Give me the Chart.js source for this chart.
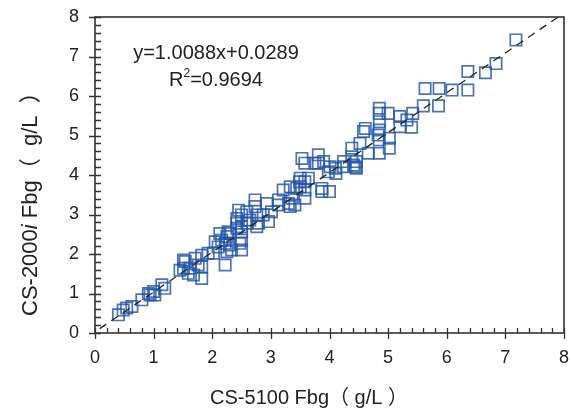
<!DOCTYPE html>
<html>
<head>
<meta charset="utf-8">
<script src="https://cdn.jsdelivr.net/npm/chart.js@4.4.1/dist/chart.umd.min.js"></script>
<style>
  html, body { margin: 0; padding: 0; background: #fff; }
  #wrap { width: 571px; height: 412px; }
</style>
</head>
<body>
<div id="wrap"><canvas id="scatter" width="571" height="412"></canvas></div>
<script>
// CS-5100 Fbg (x) vs CS-2000i Fbg (y), g/L
const xVals = [
  7.18, 6.84, 6.66, 6.36, 6.36, 6.09, 5.87, 5.63, 5.86, 5.60,
  5.42, 5.32, 5.40, 5.20, 5.20, 5.00, 4.85, 4.85, 4.85, 4.85,
  4.85, 4.85, 5.02, 5.02, 4.61, 4.58, 4.52, 4.66, 4.38, 4.38,
  4.46, 4.44, 4.83, 4.46, 4.24, 4.24, 4.41, 4.10, 4.01, 4.11,
  3.90, 3.81, 3.81, 3.53, 3.58, 3.75, 3.98, 3.87, 3.87, 4.00,
  3.49, 3.58, 3.58, 3.44, 3.58, 3.41, 3.36, 3.50, 3.50, 3.64,
  3.33, 3.21, 3.30, 3.13, 3.13, 2.93, 2.73, 2.73, 3.33, 3.01,
  2.87, 2.76, 2.79, 2.96, 2.59, 2.50, 2.45, 2.59, 2.50, 2.50,
  2.42, 2.27, 2.25, 2.30, 2.33, 2.64, 2.42, 2.42, 2.76, 2.50,
  2.30, 2.13, 2.16, 2.22, 2.10, 2.25, 2.47, 2.50, 2.05, 2.22,
  1.93, 2.02, 1.82, 1.71, 1.76, 1.51, 1.51, 1.62, 1.45, 1.59,
  1.82, 1.68, 0.40, 0.48, 0.54, 0.63, 0.80, 0.94, 0.91, 1.00,
  1.02, 1.14, 1.19, 1.54, 1.82
];
const yVals = [
  7.42, 6.82, 6.59, 6.62, 6.15, 6.15, 6.19, 6.19, 5.75, 5.75,
  5.56, 5.39, 5.21, 5.48, 5.22, 5.56, 5.69, 5.56, 5.35, 5.14,
  4.89, 4.55, 4.93, 4.68, 5.18, 5.10, 4.80, 4.55, 4.68, 4.46,
  4.34, 4.21, 5.01, 4.17, 4.34, 4.21, 4.25, 4.17, 4.21, 4.04,
  4.34, 4.51, 4.30, 4.42, 4.30, 4.30, 4.08, 3.66, 3.58, 3.58,
  3.83, 3.83, 3.62, 3.66, 3.41, 3.24, 3.41, 3.92, 3.70, 3.92,
  3.70, 3.62, 3.28, 3.37, 3.24, 3.28, 3.37, 3.20, 3.20, 3.07,
  2.99, 2.99, 2.78, 2.82, 3.07, 2.99, 3.11, 2.78, 2.56, 2.35,
  2.65, 2.56, 2.44, 2.23, 2.10, 2.86, 2.90, 2.78, 2.69, 2.69,
  2.52, 2.52, 2.35, 2.27, 2.18, 2.06, 2.27, 2.10, 2.31, 1.72,
  2.02, 2.02, 1.97, 1.89, 1.72, 1.85, 1.64, 1.64, 1.59, 1.51,
  1.38, 1.47, 0.46, 0.58, 0.63, 0.67, 0.84, 0.96, 1.00, 1.05,
  0.96, 1.22, 1.13, 1.81, 1.68
];

// regression line y = 1.0088x + 0.0289, end points
const fitX = [0.08, 7.9];
const fitY = [0.11, 7.999];

const axisTicks = [0, 1, 2, 3, 4, 5, 6, 7, 8];
const eqLine = 'y=1.0088x+0.0289';
const r2Value = '=0.9694';

const latin = '"Liberation Sans", Arial, "Noto Sans CJK JP", sans-serif';

const pts = xVals.map((x, i) => ({ x: x, y: yVals[i] }));
const fitPts = fitX.map((x, i) => ({ x: x, y: fitY[i] }));

// drop the label overhang padding so the plot box sits where it should
function fixPad(s) {
  s.paddingTop = 0; s.paddingBottom = 0; s.paddingLeft = 0; s.paddingRight = 0;
}

// frame, inward minor ticks, titles and equation
const decor = {
  id: 'decor',
  afterDraw(chart) {
    const ctx = chart.ctx;
    const a = chart.chartArea;
    const xs = chart.scales.x, ys = chart.scales.y;
    ctx.save();
    ctx.strokeStyle = '#333';
    ctx.lineWidth = 1.6;
    ctx.strokeRect(a.left, a.top, a.right - a.left, a.bottom - a.top);

    ctx.lineWidth = 1.3;
    ctx.beginPath();
    for (let k = 0; k <= 40; k++) {
      const v = k / 5;
      const major = k % 5 === 0;
      const px = Math.round(xs.getPixelForValue(v)) + 0.5;
      ctx.moveTo(px, a.bottom + (major ? 6 : 0));
      ctx.lineTo(px, a.bottom - 5);
      const py = Math.round(ys.getPixelForValue(v)) + 0.5;
      ctx.moveTo(a.left - (major ? 6 : 0), py);
      ctx.lineTo(a.left + 6, py);
    }
    ctx.stroke();

    ctx.fillStyle = '#222';
    // equation
    ctx.font = '20px ' + latin;
    ctx.textAlign = 'center';
    ctx.textBaseline = 'middle';
    ctx.fillText(eqLine, 216, 53);
    const wR = ctx.measureText('R').width;
    const wV = ctx.measureText(r2Value).width;
    ctx.font = '12px ' + latin;
    const wS = ctx.measureText('2').width;
    let sx = 216 - (wR + wS + wV) / 2;
    ctx.textAlign = 'left';
    ctx.font = '20px ' + latin;
    ctx.fillText('R', sx, 80);
    ctx.font = '12px ' + latin;
    ctx.fillText('2', sx + wR, 74);
    ctx.font = '20px ' + latin;
    ctx.fillText(r2Value, sx + wR + wS, 80);

    // x title
    ctx.font = '20px ' + latin;
    ctx.textAlign = 'center';
    ctx.fillText('CS-5100 Fbg（ g/L ）', 309, 398);

    // y title, with italic i, reading upward from y = 316
    const parts = [
      ['CS-2000', '22px ' + latin],
      ['i', 'italic 22px ' + latin],
      [' Fbg（  g/L  ）', '22px ' + latin]
    ];
    ctx.translate(31, 316);
    ctx.rotate(-Math.PI / 2);
    ctx.textAlign = 'left';
    let cx = 0;
    parts.forEach(p => {
      ctx.font = p[1];
      ctx.fillText(p[0], cx, 0);
      cx += ctx.measureText(p[0]).width;
    });
    ctx.restore();
  }
};

new Chart(document.getElementById('scatter'), {
  type: 'scatter',
  data: {
    datasets: [
      {
        data: pts,
        pointStyle: 'rect',
        pointRadius: 8,
        pointHoverRadius: 8,
        borderColor: 'rgba(34, 84, 170, 0.82)',
        backgroundColor: 'rgba(0,0,0,0)',
        pointBorderWidth: 1.7,
        order: 2
      },
      {
        type: 'line',
        data: fitPts,
        borderColor: '#222',
        borderWidth: 1.3,
        borderDash: [8, 6],
        pointRadius: 0,
        fill: false,
        order: 1
      }
    ]
  },
  options: {
    responsive: false,
    animation: false,
    layout: { autoPadding: false, padding: { left: 0, top: 17, right: 7, bottom: 0 } },
    plugins: { legend: { display: false }, tooltip: { enabled: false } },
    scales: {
      x: {
        type: 'linear', min: 0, max: 8,
        afterBuildTicks: s => { s.ticks = axisTicks.map(v => ({ value: v })); },
        afterFit: s => { s.height = 79; fixPad(s); },
        grid: { display: false, drawTicks: false },
        border: { display: false },
        ticks: { color: '#222', padding: 14, font: { family: latin, size: 18 } }
      },
      y: {
        type: 'linear', min: 0, max: 8,
        afterBuildTicks: s => { s.ticks = axisTicks.map(v => ({ value: v })); },
        afterFit: s => { s.width = 95; fixPad(s); },
        grid: { display: false, drawTicks: false },
        border: { display: false },
        ticks: { color: '#222', padding: 16, font: { family: latin, size: 18 } }
      }
    }
  },
  plugins: [decor]
});
</script>
</body>
</html>
